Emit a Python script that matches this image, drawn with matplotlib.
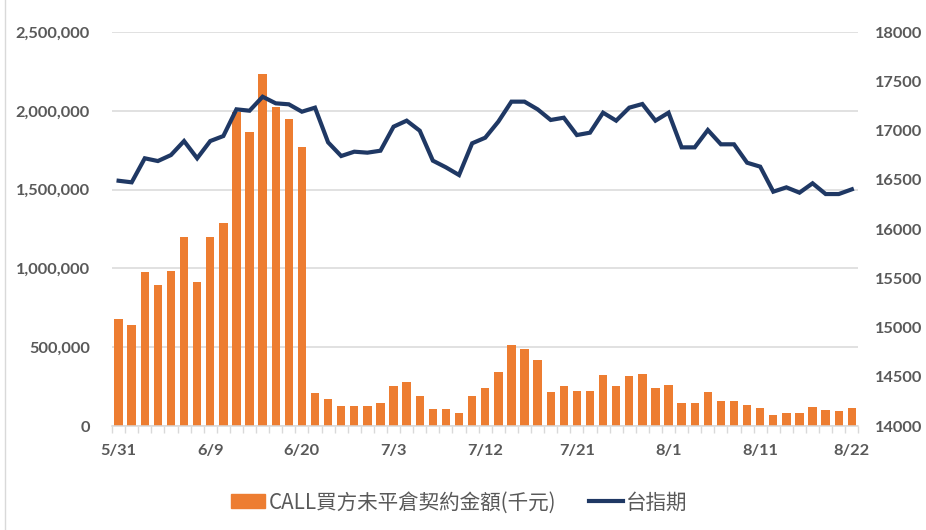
import matplotlib
matplotlib.use("Agg")
import matplotlib.pyplot as plt
from matplotlib.lines import Line2D
from matplotlib.ticker import FuncFormatter, MultipleLocator, FixedLocator
import numpy as np

# ---- data ----
call_oi = [677000, 639000, 975000, 895000, 983000, 1201000, 912000, 1201000, 1286000, 1995000,
           1867000, 2233000, 2022000, 1946000, 1772000, 207000, 169000, 129000, 129000, 129000,
           146000, 256000, 279000, 192000, 106000, 106000, 82000, 192000, 239000, 341000,
           512000, 489000, 417000, 214000, 254000, 222000, 222000, 324000, 254000, 317000,
           332000, 239000, 262000, 146000, 146000, 214000, 159000, 159000, 135000, 112000,
           72000, 80000, 80000, 121000, 104000, 95000, 112000]
taiex_fut = [16490, 16474, 16718, 16690, 16751, 16893, 16718, 16893, 16944, 17215,
             17201, 17343, 17276, 17266, 17191, 17232, 16880, 16741, 16785, 16775,
             16795, 17039, 17100, 16998, 16694, 16626, 16548, 16870, 16927, 17090,
             17293, 17293, 17215, 17107, 17130, 16954, 16978, 17181, 17100, 17232,
             17269, 17100, 17181, 16829, 16829, 17005, 16860, 16860, 16673, 16633,
             16379, 16423, 16369, 16464, 16355, 16355, 16403]
tick_labels = ["5/31", "6/9", "6/20", "7/3", "7/12", "7/21", "8/1", "8/11", "8/22"]
label_step = 7
bar_name = "CALL買方未平倉契約金額(千元)"
line_name = "台指期"

# ---- style ----
BAR_C = "#ED7D31"
LINE_C = "#1F3864"
GRID_C = "#D9D9D9"
TXT_C = "#595959"
plt.rcParams['font.family'] = ['Lato', 'Noto Sans CJK TC', 'DejaVu Sans']

fig = plt.figure(figsize=(9.26, 5.30), dpi=100)
ax = fig.add_axes([0.121, 0.1962, 0.806, 0.7434])
ax2 = ax.twinx()

x = np.arange(len(call_oi))
ax.bar(x, call_oi, width=0.64, color=BAR_C, zorder=2)
ax2.plot(x, taiex_fut, color=LINE_C, linewidth=3.0, solid_joinstyle='miter', zorder=3)

ax.set_xlim(-0.5, len(call_oi) - 0.5)
ax.set_ylim(0, 2500000)
ax2.set_ylim(14000, 18000)
ax.yaxis.set_major_locator(MultipleLocator(500000))
ax2.yaxis.set_major_locator(MultipleLocator(500))
ax.yaxis.set_major_formatter(FuncFormatter(lambda v, p: f"{int(v):,}"))
ax.grid(axis='y', color=GRID_C, linewidth=1.1, zorder=0)
ax.set_axisbelow(True)

ax.set_xticks(list(range(0, len(call_oi), label_step)))
ax.set_xticklabels(tick_labels)
ax.xaxis.set_minor_locator(FixedLocator(np.arange(-0.5, len(call_oi), 1.0)))
ax.tick_params(axis='x', which='major', length=0, pad=13)
ax.tick_params(axis='x', which='minor', length=5, width=1, color=GRID_C, direction='out')

for a in (ax, ax2):
    for s in a.spines.values():
        s.set_visible(False)
ax.spines['bottom'].set_visible(True)
ax.spines['bottom'].set_color(GRID_C)
ax.spines['bottom'].set_linewidth(1.1)

fs = 11.8
for lab in ax.get_xticklabels() + ax.get_yticklabels() + ax2.get_yticklabels():
    lab.set_fontsize(fs)
    lab.set_fontweight('bold')
    lab.set_color(TXT_C)
ax.tick_params(axis='y', length=0, pad=16)
ax2.tick_params(axis='y', length=0, pad=12)

# chart border line at left edge
fig.add_artist(Line2D([0.005, 0.005], [0, 1], color=GRID_C, linewidth=1.0, transform=fig.transFigure))

handles = [plt.Rectangle((0, 0), 1, 1, color=BAR_C),
           Line2D([0], [0], color=LINE_C, linewidth=3.0)]
leg = fig.legend(handles, [bar_name, line_name], loc='center', bbox_to_anchor=(0.496, 0.052),
                 ncol=2, frameon=False, handlelength=1.65, handletextpad=0.15, columnspacing=1.6,
                 prop={'family': ['Noto Sans CJK TC'], 'size': 14.8})
for t in leg.get_texts():
    t.set_color(TXT_C)

fig.savefig("out.png", dpi=100)
